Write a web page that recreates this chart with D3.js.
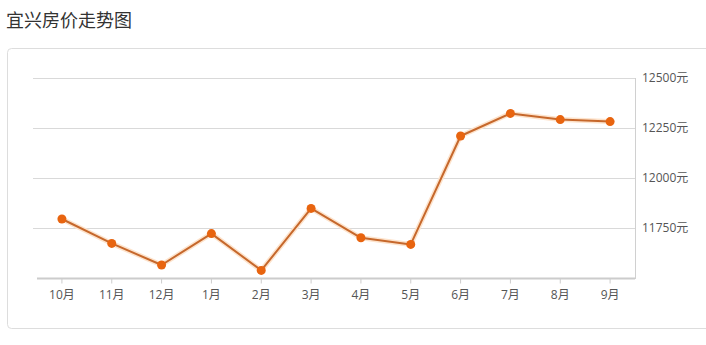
<!DOCTYPE html>
<html><head><meta charset="utf-8">
<script src="https://cdn.jsdelivr.net/npm/d3@7"></script>
<style>
body{margin:0;background:#fff;font-family:"Noto Sans CJK SC","Noto Sans",sans-serif;}
</style></head>
<body><svg id="c" width="706" height="345"></svg>
<script>
const title = "宜兴房价走势图";
const months = ["10月","11月","12月","1月","2月","3月","4月","5月","6月","7月","8月","9月"];
const prices = [11795,11673,11565,11722,11538,11848,11701,11668,12210,12323,12292,12282];
const yTicks = [11750,12000,12250,12500];
const unit = "元";
const labelFont = "'Open Sans','Noto Sans CJK SC',sans-serif";

const svg = d3.select("#c");
svg.append("text").attr("x",6).attr("y",27).attr("font-size",18).attr("fill","#333").text(title);
svg.append("rect").attr("x",7.5).attr("y",48.5).attr("width",710).attr("height",280).attr("rx",4)
  .attr("fill","none").attr("stroke","#ddd");

const x = d3.scaleBand().domain(months).range([37,635]);
const y = d3.scaleLinear().domain([11500,12500]).range([278,78]);

const g = svg.append("g");
g.selectAll(".grid").data(yTicks).join("line")
  .attr("x1",33).attr("x2",635).attr("y1",d=>Math.round(y(d))+0.5).attr("y2",d=>Math.round(y(d))+0.5)
  .attr("stroke","#d9d9d9");
g.append("line").attr("x1",635.5).attr("x2",635.5).attr("y1",78).attr("y2",279).attr("stroke","#d0d0d0");

const ya = d3.axisRight(y).tickValues(yTicks).tickSize(0).tickPadding(7).tickFormat(d=>d+unit);
const yg = svg.append("g").attr("transform","translate(635,0)").call(ya);
yg.select(".domain").remove();
yg.selectAll("text").attr("font-size",12).attr("fill","#555").attr("font-family",labelFont);

const xa = d3.axisBottom(x).tickSize(5).tickPadding(7);
const xg = svg.append("g").attr("transform","translate(0,278.5)").call(xa);
xg.select(".domain").attr("stroke","#ccc").attr("stroke-width",2).attr("d","M37,0H635");
xg.selectAll(".tick line").attr("stroke","#ccc");
xg.selectAll("text").attr("font-size",12).attr("fill","#555").attr("font-family",labelFont);

const line = d3.line().x((d,i)=>x(months[i])+x.bandwidth()/2).y(d=>y(d));
svg.append("path").datum(prices).attr("d",line).attr("fill","none")
  .attr("stroke","#fde3cc").attr("stroke-width",5).attr("stroke-linejoin","round");
svg.append("path").datum(prices).attr("d",line).attr("fill","none")
  .attr("stroke","#c6682c").attr("stroke-width",2).attr("stroke-linejoin","round");
svg.selectAll(".pt").data(prices).join("circle")
  .attr("cx",(d,i)=>x(months[i])+x.bandwidth()/2).attr("cy",d=>y(d)).attr("r",4.5)
  .attr("fill","#e8640f");
</script></body></html>
